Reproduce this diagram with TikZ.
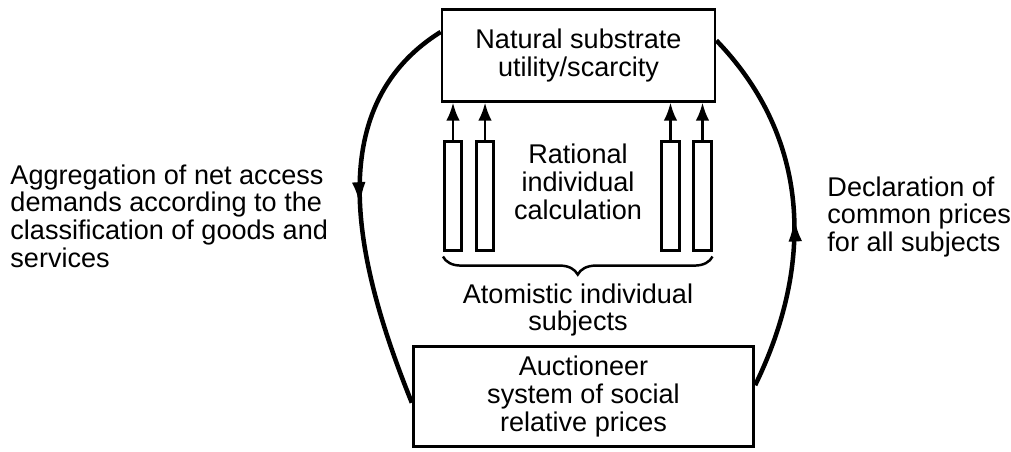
\documentclass[tikz,border=0pt]{standalone}
\usepackage{fontspec}
\setmainfont{Liberation Sans}
\usetikzlibrary{arrows.meta,positioning,calc}
\usetikzlibrary{decorations.pathreplacing,decorations.markings}

\begin{document}
\begin{tikzpicture}[%
    x=0.4433pt, y=-0.4433pt,     % one unit is one pixel of the sketch
    >={Latex[length=8pt,width=6pt]},
    font=\fontsize{12}{12.3}\selectfont,
    ]
% -------------------------------------------------
% box styles
\tikzset{
  base/.style={draw, line width=1.2pt, align=center, inner sep=0pt},
  topbox/.style={base, minimum width=121pt, minimum height=40.5pt},
  botbox/.style={base, minimum width=151pt, minimum height=44.5pt},
  bar/.style={base, minimum width=7.7pt, minimum height=48.5pt},
  txt/.style={align=center, inner sep=0pt},
  sidetxt/.style={align=left, inner sep=0pt, anchor=west},
  norm/.style={->, draw, line width=1.2pt},
  cycle/.style={draw, line width=2pt, postaction={decorate},
    decoration={markings, mark=at position #1 with
      {\arrow{Latex[length=11pt,width=6pt]}}}},
  bracket/.style={draw, line width=1.1pt,
    decoration={brace, mirror, amplitude=8pt, raise=2pt}, decorate}
  }
\useasboundingbox (0,0) rectangle (1011,452);
% -------------------------------------------------
\node [topbox] (top) at (578.5,55.5) {Natural substrate\\utility/scarcity};

\node [bar] (b1) at (453,196) {};
\node [bar, right=5.3pt of b1] (b2) {};
\node [bar] (b4) at (702.5,196) {};
\node [bar, left=5.3pt of b4] (b3) {};

\foreach \b in {b1,b2,b3,b4}
  \draw [norm] (\b.north) -- (\b.north |- top.south);

\node [txt] (calc) at (578,182) {Rational\\individual\\calculation};

\draw [bracket] (b1.south west) -- (b4.south east);
\node [txt] (atoms) at (578,310) {Atomistic individual\\subjects};

\node [botbox] (auct) at (583.5,396.5) {Auctioneer\\system of social\\relative prices};

\node [sidetxt] (aggr) at (10,216) {Aggregation of net access\\demands according to the\\classification of goods and\\services};
\node [sidetxt] (decl) at (827,217) {Declaration of\\common prices\\for all subjects};

% the cycle round the market
\draw [cycle=0.5] ($(top.north west)!0.25!(top.south west)$)
  to[out=212, in=112] ($(auct.north west)!0.56!(auct.south west)$);
\draw [cycle=0.47] ($(auct.north east)!0.39!(auct.south east)$)
  to[out=64, in=-46] ($(top.north east)!0.34!(top.south east)$);
\end{tikzpicture}
\end{document}
